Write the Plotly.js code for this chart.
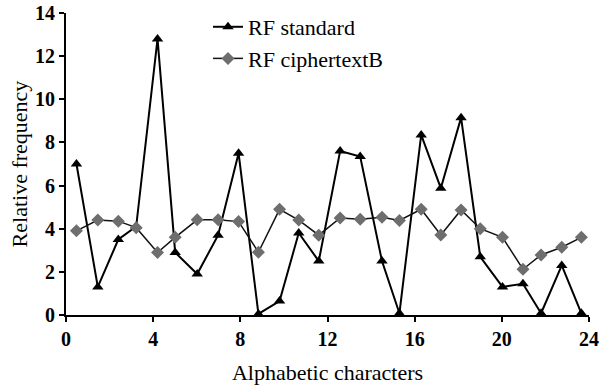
<!DOCTYPE html>
<html>
<head>
<meta charset="utf-8">
<script src="https://cdn.plot.ly/plotly-3.0.1.min.js"></script>
<style>html,body{margin:0;padding:0;background:#fff;}#chart{width:616px;height:391px;}</style>
</head>
<body>
<div id="chart"></div>
<script>
const letterPos = [0.48, 1.46, 2.4, 3.22, 4.2, 5.01, 6.02, 6.98, 7.92, 8.83, 9.8, 10.68, 11.6, 12.58, 13.5, 14.5, 15.3, 16.3, 17.2, 18.13, 19.01, 20.03, 20.97, 21.8, 22.75, 23.65];
const rfStandard = [7.0, 1.3, 3.5, 4.1, 12.8, 2.9, 1.9, 3.7, 7.5, 0.05, 0.65, 3.8, 2.5, 7.6, 7.35, 2.5, 0.08, 8.35, 5.88, 9.15, 2.7, 1.3, 1.45, 0.08, 2.3, 0.08];
const rfCipherB = [3.9, 4.4, 4.35, 4.05, 2.9, 3.6, 4.41, 4.41, 4.33, 2.91, 4.9, 4.4, 3.7, 4.5, 4.44, 4.53, 4.38, 4.9, 3.71, 4.87, 4.0, 3.6, 2.12, 2.78, 3.14, 3.6];
const xTicks = [0, 4, 8, 12, 16, 20, 24];
const yTicks = [0, 2, 4, 6, 8, 10, 12, 14];

const font = {family: '"Liberation Serif", "DejaVu Serif", serif', color: '#000'};
const traces = [
  {x: letterPos, y: rfStandard, name: 'RF standard', type: 'scatter', mode: 'lines+markers',
   line: {color: '#000', width: 2}, marker: {symbol: 'triangle-up', size: 10, color: '#000'}},
  {x: letterPos, y: rfCipherB, name: 'RF ciphertextB', type: 'scatter', mode: 'lines+markers',
   line: {color: '#111', width: 1.5}, marker: {symbol: 'diamond', size: 10, color: '#6e6e6e'}}
];
const axisCommon = {showgrid: false, zeroline: false, showline: true, linecolor: '#000', linewidth: 2,
  ticks: 'outside', ticklen: 5, tickwidth: 2, tickcolor: '#000',
  tickfont: Object.assign({size: 20, weight: 'bold'}, font)};
const layout = {
  width: 616, height: 391,
  margin: {l: 66, r: 27, t: 0, b: 76},
  paper_bgcolor: '#fff', plot_bgcolor: '#fff',
  font: font,
  showlegend: true,
  legend: {x: 0.2715, y: 0.981, xanchor: 'left', yanchor: 'top',
    bgcolor: 'rgba(0,0,0,0)', font: Object.assign({size: 22}, font), tracegroupgap: 0},
  xaxis: Object.assign({}, axisCommon, {range: [0, 24], tickvals: xTicks, ticktext: xTicks.map(String),
    title: {text: 'Alphabetic characters', font: Object.assign({size: 22}, font), standoff: 16}}),
  yaxis: Object.assign({}, axisCommon, {range: [0, 14], domain: [0, 0.9587], tickvals: yTicks, ticktext: yTicks.map(String),
    title: {text: 'Relative frequency', font: Object.assign({size: 22}, font), standoff: 1}})
};
Plotly.newPlot('chart', traces, layout, {displayModeBar: false, staticPlot: true});
</script>
</body>
</html>
